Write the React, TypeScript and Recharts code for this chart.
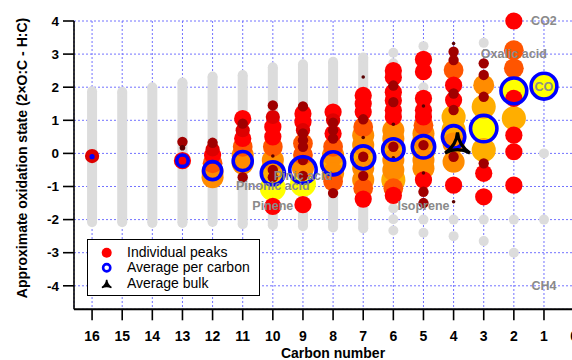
import React from "react";
import {
  ScatterChart,
  Scatter,
  XAxis,
  YAxis,
  ZAxis,
  CartesianGrid,
  Legend,
} from "recharts";

const CARBON_TICKS = [0, 1, 2, 3, 4, 5, 6, 7, 8, 9, 10, 11, 12, 13, 14, 15, 16];
const OS_TICKS = [-4, -3, -2, -1, 0, 1, 2, 3, 4];

// possible formulas per carbon number: [carbon, lowest OSc, highest OSc]
const GRAY_COLUMNS: [number, number, number][] = [
  [16, -2.08, 1.88],
  [15, -2.08, 1.86],
  [14, -2.1, 2.0],
  [13, -2.1, 2.14],
  [12, -2.07, 2.32],
  [11, -2.14, 2.37],
  [10, -2.17, 2.6],
  [9, -2.2, 2.69],
  [8, -2.24, 2.77],
  [7, -2.27, 2.9],
];

// small molecules: [carbon, OSc]
const GRAY_DOTS: [number, number][] = [
  [6, 3.04], [6, 2.72], [6, -1.66], [6, -1.99], [6, -2.33],
  [5, 3.24], [5, 2.0], [5, -2.0], [5, -2.4],
  [4, -2.0], [4, -2.5],
  [3, 3.34], [3, -2.0], [3, -2.65],
  [2, -2.0], [2, -3.0],
  [1, 0.0], [1, -2.0],
];

// individual peaks: [OSc, relative intensity]
const PEAKS_C16: [number, number][] = [[-0.08, 3]];
const PEAKS_C13: [number, number][] = [[0.35, 2], [0.17, 1.2], [-0.22, 4]];
const PEAKS_C12: [number, number][] = [
  [0.32, 2], [0.12, 3], [-0.05, 4], [-0.3, 5], [-0.55, 6], [-0.72, 6],
];
const PEAKS_C11: [number, number][] = [
  [1.05, 4], [0.9, 2], [0.7, 3], [0.45, 4], [0.2, 5], [-0.05, 6], [-0.3, 6], [-0.72, 2],
];
const PEAKS_C10: [number, number][] = [
  [1.45, 2], [1.1, 3], [0.8, 4], [0.5, 4], [0.2, 5], [-0.2, 6], [-0.08, 1],
  [-0.5, 7], [-0.5, 2], [-0.72, 2], [-1.05, 8], [-1.6, 4],
];
const PEAKS_C9: [number, number][] = [
  [1.42, 2], [1.2, 4], [0.95, 4], [0.7, 3], [0.6, 2], [0.4, 2], [0.3, 5], [0.2, 2],
  [-0.05, 5], [-0.2, 2], [-0.45, 6], [-0.68, 2], [-0.92, 8], [-1.55, 4],
];
const PEAKS_C8: [number, number][] = [
  [1.25, 4], [1.0, 3], [0.93, 2], [0.7, 2], [0.6, 4], [0.45, 2], [0.2, 5],
  [-0.05, 6], [-0.35, 7], [-0.6, 6], [-0.85, 5], [-1.2, 2],
];
const PEAKS_C7: [number, number][] = [
  [2.31, 1], [1.75, 4], [1.5, 4], [1.25, 4], [1.03, 2], [0.8, 5], [0.55, 6], [0.48, 1],
  [0.25, 6], [-0.05, 7], [-0.1, 2], [-0.45, 6], [-0.68, 2], [-0.8, 6], [-1.05, 5], [-1.38, 4],
];
const PEAKS_C6: [number, number][] = [
  [2.5, 4], [2.3, 4], [2.05, 2], [1.85, 4], [1.6, 4], [1.55, 2], [1.3, 4], [1.1, 4],
  [0.88, 1], [0.7, 6], [0.45, 6], [0.2, 2], [0.12, 7], [-0.13, 1], [-0.2, 6], [-0.5, 6],
  [-0.8, 7], [-1.05, 5], [-1.27, 4],
];
const PEAKS_C5: [number, number][] = [
  [2.84, 4], [2.47, 4], [1.66, 4], [1.43, 1], [1.3, 4], [1.1, 4], [0.85, 5], [0.6, 6],
  [0.4, 6], [0.25, 2], [0.1, 7], [-0.2, 6], [-0.45, 6], [-0.59, 1], [-0.8, 4], [-1.16, 2],
  [-1.5, 2],
];
const PEAKS_C4: [number, number][] = [
  [3.32, 1], [3.07, 2], [2.82, 2], [2.52, 5], [2.06, 4], [1.81, 2], [1.61, 4], [1.31, 2],
  [1.1, 7], [0.7, 7], [0.3, 6], [-0.1, 2], [-0.25, 6], [-0.96, 4], [-1.46, 1],
];
const PEAKS_C3: [number, number][] = [
  [2.72, 2], [2.37, 2], [2.06, 5.5], [1.71, 2], [1.41, 7], [0.75, 8], [0.1, 7],
  [-0.3, 2], [-0.6, 4], [-1.31, 4],
];
const PEAKS_C2: [number, number][] = [
  [4.0, 4], [3.12, 5], [2.57, 5], [1.95, 8], [1.66, 4], [1.06, 7], [0.55, 4], [0.05, 4], [-0.96, 4],
];
const PEAKS_C1: [number, number][] = [[2.0, 7.5]];

// [carbon, mean OSc, summed signal]
const AVG_PER_CARBON: [number, number, number][] = [
  [16, -0.1, 3], [13, -0.22, 25], [12, -0.52, 52], [11, -0.23, 57], [10, -0.6, 79],
  [9, -0.5, 100], [8, -0.3, 79], [7, -0.12, 79], [6, 0.12, 69], [5, 0.2, 75],
  [4, 0.5, 75], [3, 0.75, 100], [2, 1.89, 96], [1, 2.03, 96],
];

const AVG_BULK: [number, number][] = [[3.87, 0.3]];

const COMPOUNDS: [string, number, number][] = [
  ["CO2", 1, 4],
  ["Oxalic acid", 2, 3],
  ["CO", 1, 2],
  ["Pinic acid", 9, -0.67],
  ["Pinonic acid", 10, -1.0],
  ["Pinene", 10, -1.6],
  ["Isoprene", 5, -1.6],
  ["CH4", 1, -4],
];

const PEAK_GROUPS: [number, [number, number][]][] = [
  [16, PEAKS_C16], [13, PEAKS_C13], [12, PEAKS_C12], [11, PEAKS_C11], [10, PEAKS_C10],
  [9, PEAKS_C9], [8, PEAKS_C8], [7, PEAKS_C7], [6, PEAKS_C6], [5, PEAKS_C5],
  [4, PEAKS_C4], [3, PEAKS_C3], [2, PEAKS_C2], [1, PEAKS_C1],
];

// big peaks first, so small ones stay visible on top
const peakRows = PEAK_GROUPS.flatMap(([c, list]) =>
  list.map(([os, z]) => ({ c, os, z }))
).sort((a, b) => b.z - a.z);

const grayDotRows = GRAY_DOTS.map(([c, os]) => ({ c, os }));
const avgRows = AVG_PER_CARBON.map(([c, os, w]) => ({ c, os, w }));
const bulkRows = AVG_BULK.map(([c, os]) => ({ c, os }));
const labelRows = COMPOUNDS.map(([name, c, os]) => ({ name, c, os }));

const GRAY = "#dcdcdc";
const FONT = '"Liberation Sans", Arial, Helvetica, sans-serif';

function peakColor(z: number) {
  if (z < 1.5) return "#5a0000";
  if (z < 2.5) return "#a00000";
  if (z < 3.5) return "#dd0000";
  if (z < 4.5) return "#ff0000";
  if (z < 5.5) return "#ff5500";
  if (z < 6.5) return "#ff8c00";
  if (z < 7.5) return "#ffae00";
  return "#ffff00";
}

const radiusOf = (p: any) =>
  p.width != null ? p.width / 2 : Math.sqrt(Math.max(p.size || 0, 0) / Math.PI);

const GrayDot = (p: any) => <circle cx={p.cx} cy={p.cy} r={5} fill={GRAY} />;

const PeakDot = (p: any) => (
  <circle cx={p.cx} cy={p.cy} r={radiusOf(p)} fill={peakColor(p.payload.z)} />
);

const Ring = (p: any) => {
  const r = radiusOf(p);
  const sw = Math.min(3.6, r * 0.9);
  return (
    <circle
      cx={p.cx}
      cy={p.cy}
      r={Math.max(r - sw / 2, 0.5)}
      fill="none"
      stroke="#0000ff"
      strokeWidth={sw}
    />
  );
};

const deltoid = (x: number, y: number, s: number) =>
  `M ${x} ${y - 11 * s} Q ${x + 1 * s} ${y + 2 * s} ${x + 12.5 * s} ${y + 9.5 * s} ` +
  `Q ${x} ${y + 3 * s} ${x - 12.5 * s} ${y + 9.5 * s} Q ${x - 1 * s} ${y + 2 * s} ${x} ${y - 11 * s} Z`;

const BulkMarker = (p: any) => (
  <path
    d={deltoid(p.cx, p.cy, 1)}
    fill="none"
    stroke="#000"
    strokeWidth={3.2}
    strokeLinejoin="miter"
  />
);

const CompoundLabel = (p: any) => (
  <text
    x={p.cx}
    y={p.cy}
    textAnchor="middle"
    dominantBaseline="central"
    fontSize={12.5}
    fontWeight="bold"
    fill="#8a8a8a"
    fontFamily={FONT}
  >
    {p.payload.name}
  </text>
);

function LegendBox() {
  const row = { display: "flex", alignItems: "center", height: 15.5 } as const;
  return (
    <div
      style={{
        boxSizing: "border-box",
        width: 173,
        height: 57,
        border: "1px solid #000",
        background: "#fff",
        paddingTop: 4.5,
        fontFamily: FONT,
        fontSize: 14,
        color: "#000",
        lineHeight: "15.5px",
      }}
    >
      <div style={row}>
        <svg width={39} height={15.5}>
          <circle cx={18.7} cy={7.75} r={5} fill="#ff0000" />
        </svg>
        <span>Individual peaks</span>
      </div>
      <div style={row}>
        <svg width={39} height={15.5}>
          <circle cx={18.7} cy={7.75} r={3.6} fill="none" stroke="#0000ff" strokeWidth={2.6} />
        </svg>
        <span>Average per carbon</span>
      </div>
      <div style={row}>
        <svg width={39} height={15.5}>
          <path d={deltoid(18.7, 8, 0.38)} fill="#000" stroke="#000" strokeWidth={1.5} />
        </svg>
        <span>Average bulk</span>
      </div>
    </div>
  );
}

export default function App() {
  return (
    <div
      style={{
        position: "absolute",
        left: 0,
        top: 0,
        width: 572,
        height: 360,
        overflow: "hidden",
        background: "#fff",
        fontFamily: FONT,
      }}
    >
      <ScatterChart
        width={620}
        height={360}
        margin={{ top: 21, right: 45.9, bottom: 0, left: 0 }}
        style={{ fontFamily: FONT }}
      >
        <CartesianGrid stroke="#7272ff" strokeDasharray="2 2" strokeWidth={1} />
        <XAxis
          type="number"
          dataKey="c"
          domain={[0, 16.6]}
          reversed
          ticks={CARBON_TICKS}
          interval={0}
          height={50.7}
          tickSize={11}
          tickMargin={11}
          tick={{ fontSize: 14, fontWeight: "bold", fill: "#000" }}
          axisLine={{ stroke: "#000", strokeWidth: 2 }}
          tickLine={{ stroke: "#000", strokeWidth: 1.6 }}
          label={() => (
            <text x={333} y={358} textAnchor="middle" fontSize={14} fontWeight="bold" fill="#000">
              Carbon number
            </text>
          )}
        />
        <YAxis
          type="number"
          dataKey="os"
          domain={[-4.71, 4]}
          ticks={OS_TICKS}
          interval={0}
          width={74}
          tickSize={11}
          tickMargin={4}
          tick={{ fontSize: 13.5, fontWeight: "bold", fill: "#000" }}
          axisLine={{ stroke: "#000", strokeWidth: 1.6 }}
          tickLine={{ stroke: "#000", strokeWidth: 1.6 }}
          label={() => (
            <text
              x={22}
              y={158}
              transform="rotate(-90 22 158)"
              textAnchor="middle"
              dominantBaseline="central"
              fontSize={14}
              fontWeight="bold"
              fill="#000"
            >
              Approximate oxidation state (2×O:C - H:C)
            </text>
          )}
        />
        <ZAxis zAxisId="peak" type="number" dataKey="z" domain={[1, 8]} range={[10.2, 531]} />
        <ZAxis zAxisId="avg" type="number" dataKey="w" domain={[0, 100]} range={[0, 706.9]} />

        {GRAY_COLUMNS.map(([c, lo, hi]) => (
          <Scatter
            key={`col-${c}`}
            data={[{ c, os: lo }, { c, os: hi }]}
            line={{ stroke: GRAY, strokeWidth: 10 }}
            shape={GrayDot}
            isAnimationActive={false}
          />
        ))}
        <Scatter data={grayDotRows} shape={GrayDot} isAnimationActive={false} />
        <Scatter
          name="Individual peaks"
          data={peakRows}
          zAxisId="peak"
          shape={PeakDot}
          isAnimationActive={false}
        />
        <Scatter
          name="Average per carbon"
          data={avgRows}
          zAxisId="avg"
          shape={Ring}
          isAnimationActive={false}
        />
        <Scatter data={labelRows} shape={CompoundLabel} isAnimationActive={false} />
        <Scatter
          name="Average bulk"
          data={bulkRows}
          shape={BulkMarker}
          isAnimationActive={false}
        />
        <Legend
          layout="horizontal"
          verticalAlign="middle"
          content={() => <LegendBox />}
          wrapperStyle={{ left: 87, top: 239, width: 173, height: 57 }}
        />
      </ScatterChart>
    </div>
  );
}
